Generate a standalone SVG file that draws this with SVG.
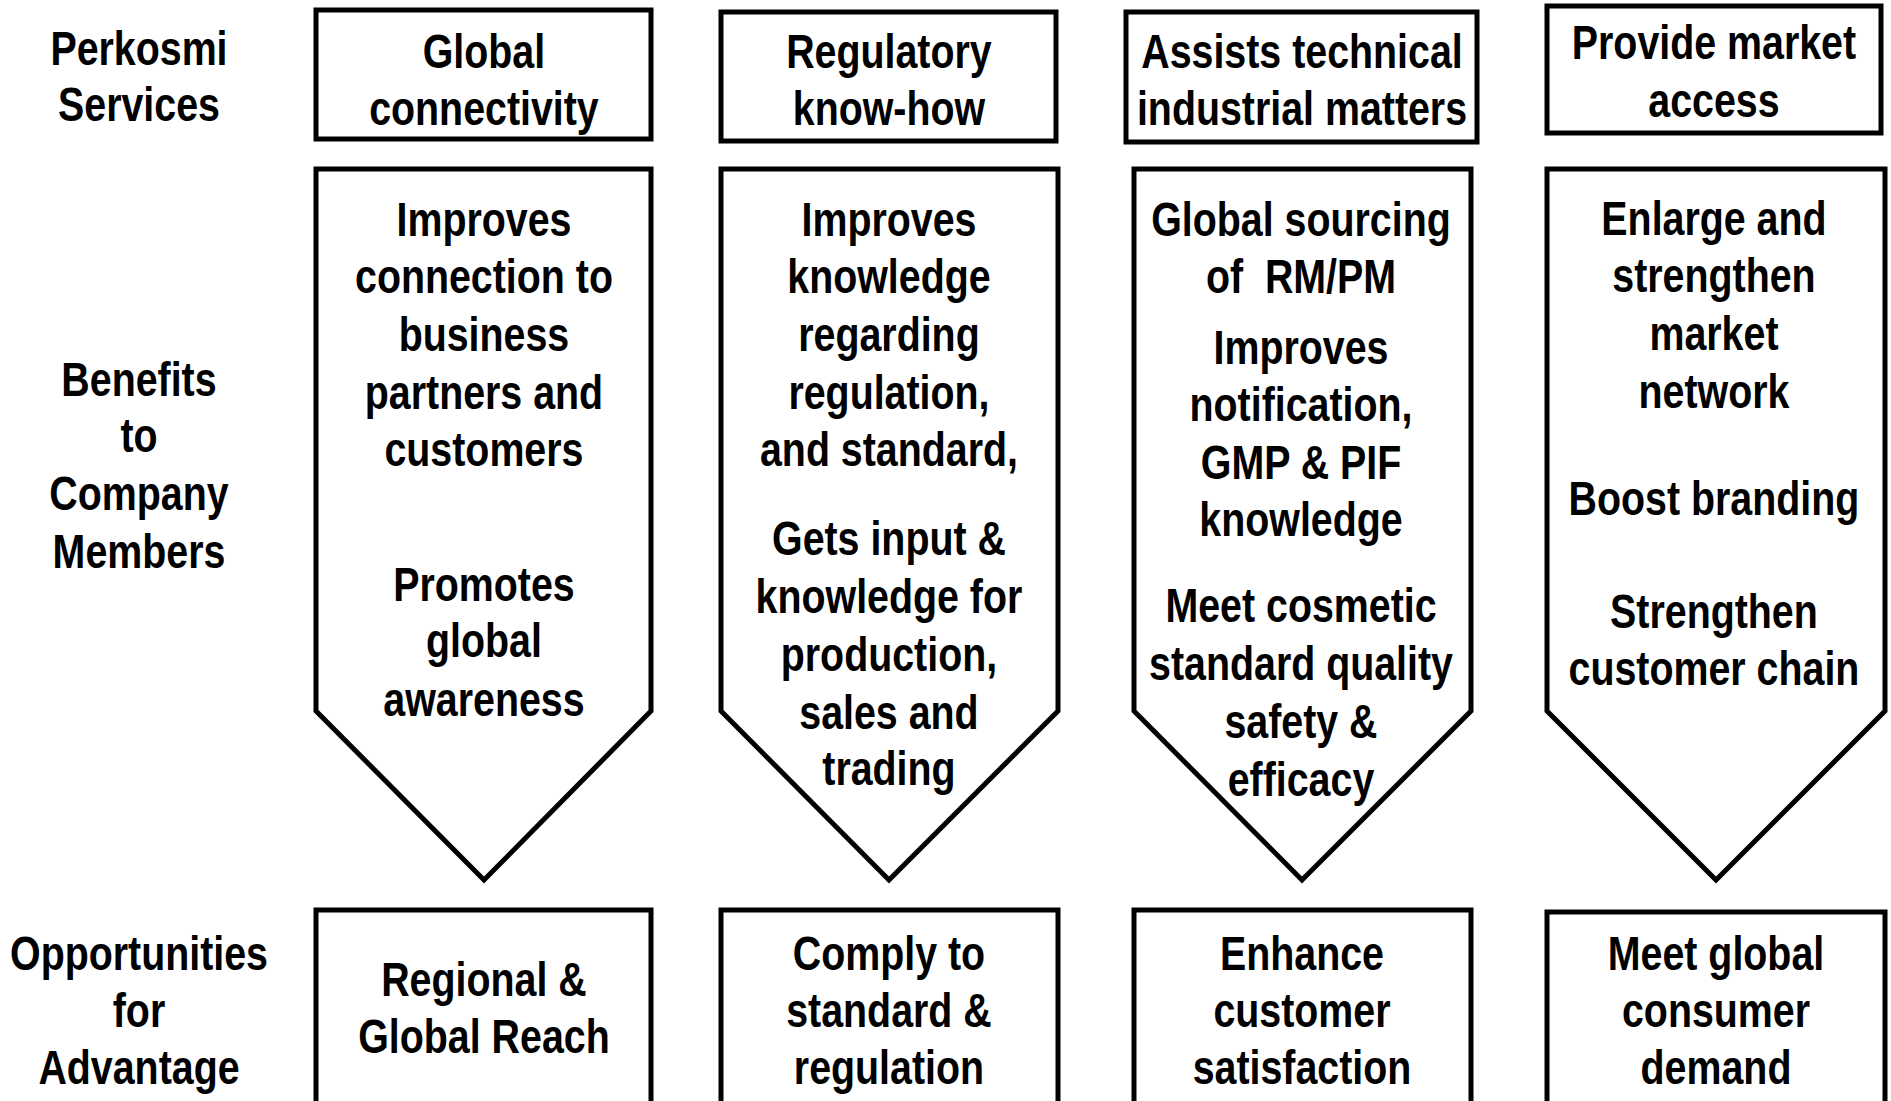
<svg xmlns="http://www.w3.org/2000/svg" width="1891" height="1101" viewBox="0 0 1891 1101">
<style>
.t{font-family:"Liberation Sans",Arial,sans-serif;font-weight:bold;font-size:48px;text-anchor:middle;fill:#000}
.s{fill:#fff;stroke:#000;stroke-width:5;stroke-linejoin:miter}
</style>
<rect width="1891" height="1101" fill="#fff"/>
<g id="row-labels">
<g transform="scale(0.82 1)">
<text class="t" x="169.5" y="65">Perkosmi</text>
<text class="t" x="169.5" y="121">Services</text>
<text class="t" x="169.5" y="396">Benefits</text>
<text class="t" x="169.5" y="452">to</text>
<text class="t" x="169.5" y="510">Company</text>
<text class="t" x="169.5" y="568">Members</text>
<text class="t" x="169.5" y="970">Opportunities</text>
<text class="t" x="169.5" y="1027">for</text>
<text class="t" x="169.5" y="1084">Advantage</text>
</g>
</g>
<g id="service1">
<rect class="s" x="316" y="10" width="335" height="129"/>
<g transform="scale(0.82 1)">
<text class="t" x="590.2" y="68">Global</text>
<text class="t" x="590.2" y="125">connectivity</text>
</g>
</g>
<g id="service2">
<rect class="s" x="721" y="12" width="335" height="129"/>
<g transform="scale(0.82 1)">
<text class="t" x="1084.1" y="68">Regulatory</text>
<text class="t" x="1084.1" y="125">know-how</text>
</g>
</g>
<g id="service3">
<rect class="s" x="1126" y="12" width="351" height="130"/>
<g transform="scale(0.82 1)">
<text class="t" x="1587.8" y="68">Assists technical</text>
<text class="t" x="1587.8" y="125">industrial matters</text>
</g>
</g>
<g id="service4">
<rect class="s" x="1547" y="6" width="334" height="127"/>
<g transform="scale(0.82 1)">
<text class="t" x="2090.2" y="59">Provide market</text>
<text class="t" x="2090.2" y="117">access</text>
</g>
</g>
<g id="benefit1">
<polygon class="s" points="316,169 651,169 651,711 484,880 316,711"/>
<g transform="scale(0.82 1)">
<text class="t" x="590.2" y="236">Improves</text>
<text class="t" x="590.2" y="293">connection to</text>
<text class="t" x="590.2" y="351">business</text>
<text class="t" x="590.2" y="409">partners and</text>
<text class="t" x="590.2" y="466">customers</text>
<text class="t" x="590.2" y="601">Promotes</text>
<text class="t" x="590.2" y="657">global</text>
<text class="t" x="590.2" y="716">awareness</text>
</g>
</g>
<g id="benefit2">
<polygon class="s" points="721,169 1058,169 1058,711 889,880 721,711"/>
<g transform="scale(0.82 1)">
<text class="t" x="1084.1" y="236">Improves</text>
<text class="t" x="1084.1" y="293">knowledge</text>
<text class="t" x="1084.1" y="351">regarding</text>
<text class="t" x="1084.1" y="409">regulation,</text>
<text class="t" x="1084.1" y="466">and standard,</text>
<text class="t" x="1084.1" y="555">Gets input &amp;</text>
<text class="t" x="1084.1" y="613">knowledge for</text>
<text class="t" x="1084.1" y="671">production,</text>
<text class="t" x="1084.1" y="729">sales and</text>
<text class="t" x="1084.1" y="785">trading</text>
</g>
</g>
<g id="benefit3">
<polygon class="s" points="1134,169 1471,169 1471,711 1302,880 1134,711"/>
<g transform="scale(0.82 1)">
<text class="t" x="1586.6" y="236">Global sourcing</text>
<text class="t" x="1586.6" y="293" style="white-space:pre">of  RM/PM</text>
<text class="t" x="1586.6" y="364">Improves</text>
<text class="t" x="1586.6" y="421">notification,</text>
<text class="t" x="1586.6" y="479">GMP &amp; PIF</text>
<text class="t" x="1586.6" y="536">knowledge</text>
<text class="t" x="1586.6" y="622">Meet cosmetic</text>
<text class="t" x="1586.6" y="680">standard quality</text>
<text class="t" x="1586.6" y="738">safety &amp;</text>
<text class="t" x="1586.6" y="796">efficacy</text>
</g>
</g>
<g id="benefit4">
<polygon class="s" points="1547,169 1885,169 1885,711 1716,880 1547,711"/>
<g transform="scale(0.82 1)">
<text class="t" x="2090.2" y="235">Enlarge and</text>
<text class="t" x="2090.2" y="292">strengthen</text>
<text class="t" x="2090.2" y="350">market</text>
<text class="t" x="2090.2" y="408">network</text>
<text class="t" x="2090.2" y="515">Boost branding</text>
<text class="t" x="2090.2" y="628">Strengthen</text>
<text class="t" x="2090.2" y="685">customer chain</text>
</g>
</g>
<g id="opportunity1">
<rect class="s" x="316" y="910" width="335" height="220"/>
<g transform="scale(0.82 1)">
<text class="t" x="590.2" y="996">Regional &amp;</text>
<text class="t" x="590.2" y="1053">Global Reach</text>
</g>
</g>
<g id="opportunity2">
<rect class="s" x="721" y="910" width="337" height="220"/>
<g transform="scale(0.82 1)">
<text class="t" x="1084.1" y="970">Comply to</text>
<text class="t" x="1084.1" y="1027">standard &amp;</text>
<text class="t" x="1084.1" y="1084">regulation</text>
</g>
</g>
<g id="opportunity3">
<rect class="s" x="1134" y="910" width="337" height="220"/>
<g transform="scale(0.82 1)">
<text class="t" x="1587.8" y="970">Enhance</text>
<text class="t" x="1587.8" y="1027">customer</text>
<text class="t" x="1587.8" y="1084">satisfaction</text>
</g>
</g>
<g id="opportunity4">
<rect class="s" x="1547" y="912" width="338" height="220"/>
<g transform="scale(0.82 1)">
<text class="t" x="2092.7" y="970">Meet global</text>
<text class="t" x="2092.7" y="1027">consumer</text>
<text class="t" x="2092.7" y="1084">demand</text>
</g>
</g>
<g id="connectors"></g>
</svg>
